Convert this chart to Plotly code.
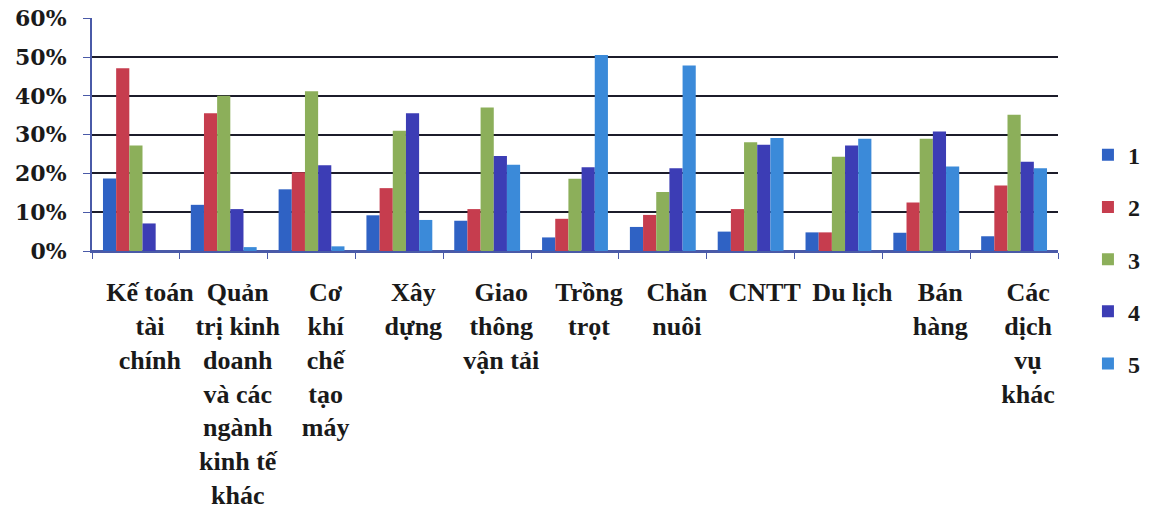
import plotly.graph_objects as go

categories = [
    "Kế toán<br>tài<br>chính",
    "Quản<br>trị kinh<br>doanh<br>và các<br>ngành<br>kinh tế<br>khác",
    "Cơ<br>khí<br>chế<br>tạo<br>máy",
    "Xây<br>dựng",
    "Giao<br>thông<br>vận tải",
    "Trồng<br>trọt",
    "Chăn<br>nuôi",
    "CNTT",
    "Du lịch",
    "Bán<br>hàng",
    "Các<br>dịch<br>vụ<br>khác",
]
series_names = ["1", "2", "3", "4", "5"]
s1 = [0.187, 0.119, 0.159, 0.092, 0.078, 0.035, 0.062, 0.050, 0.048, 0.047, 0.038]
s2 = [0.471, 0.355, 0.203, 0.162, 0.108, 0.083, 0.093, 0.108, 0.048, 0.125, 0.169]
s3 = [0.272, 0.400, 0.412, 0.310, 0.370, 0.186, 0.152, 0.280, 0.243, 0.289, 0.351]
s4 = [0.071, 0.108, 0.221, 0.355, 0.245, 0.216, 0.213, 0.274, 0.272, 0.308, 0.230]
s5 = [0.0, 0.010, 0.012, 0.080, 0.222, 0.505, 0.478, 0.291, 0.289, 0.218, 0.213]
y_tick_values = [0.0, 0.1, 0.2, 0.3, 0.4, 0.5, 0.6]
colors = ["#2f62c4", "#c63d4e", "#8caf5a", "#3c3db5", "#3b8ad9"]

serif = "Liberation Serif, Times New Roman, DejaVu Serif, serif"
wide_serif = "DejaVu Serif, Liberation Serif, serif"

fig = go.Figure()
for name, vals, col in zip(series_names, [s1, s2, s3, s4, s5], colors):
    fig.add_trace(go.Bar(
        x=categories, y=vals, name=name, marker_color=col,
        marker_line_width=0, legendgroup=name,
    ))

fig.update_layout(
    width=1157, height=516,
    margin=dict(l=92, r=95, t=18, b=265),
    paper_bgcolor="white", plot_bgcolor="white",
    barmode="group", bargap=0.25, bargroupgap=0.0,
    font=dict(family=serif, size=22, color="#1a1a1a"),
    legend=dict(
        x=1.031, xanchor="left", y=-0.035, yanchor="middle",
        font=dict(family=serif, size=24, weight="bold", color="#1a1a1a"),
        tracegroupgap=18, itemwidth=30, maxheight=1,
    ),
    showlegend=True,
)
fig.update_yaxes(
    range=[0, 0.6005], tickvals=y_tick_values, tickformat=".0%", automargin=False,
    ticklabeloverflow="allow",
    showgrid=True, gridcolor="#1c1c2a", gridwidth=2,
    showline=True, linecolor="#4a5aa8", linewidth=2,
    ticks="outside", ticklen=7, tickcolor="#4a5aa8", ticklabelstandoff=12,
    tickfont=dict(family=wide_serif, size=22, weight="bold", color="#1a1a1a"),
    zeroline=True, zerolinecolor="#4a5aa8", zerolinewidth=2,
)
fig.update_xaxes(
    showline=True, linecolor="#4a5aa8", linewidth=2, automargin=False,
    ticks="outside", ticklen=6, tickcolor="#4a5aa8", tickson="boundaries",
    tickangle=0, ticklabelstandoff=17, ticklabelshift=14,
    tickfont=dict(family=serif, size=26, weight="bold", color="#1a1a1a"),
)

fig.write_html(
    "out.html",
    config={"displayModeBar": False},
    post_script="document.body.style.margin='0';",
)
